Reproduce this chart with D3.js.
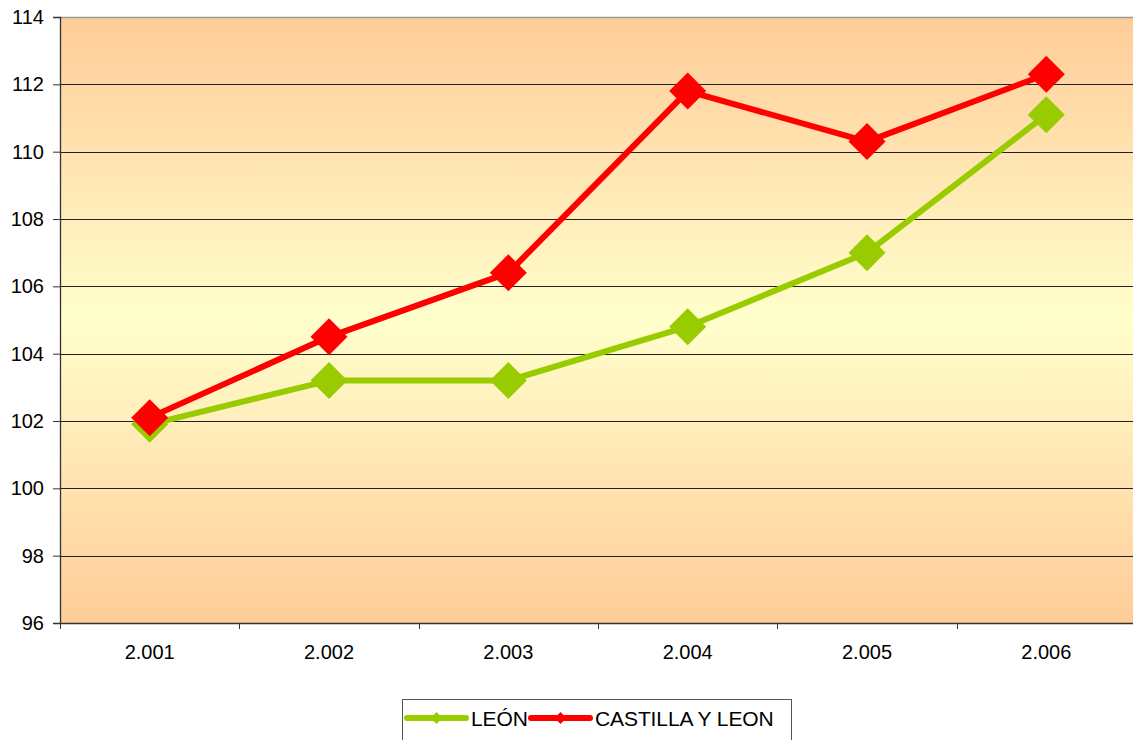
<!DOCTYPE html>
<html><head><meta charset="utf-8">
<script src="https://cdn.jsdelivr.net/npm/d3@7/dist/d3.min.js"></script>
<style>html,body{margin:0;padding:0;background:#fff;overflow:hidden}svg{display:block;font-family:"Liberation Sans",Arial,sans-serif}</style>
</head><body><svg id="c" width="1133" height="740"></svg>
<script>
const years = ["2.001","2.002","2.003","2.004","2.005","2.006"];
const leon = [101.9, 103.2, 103.2, 104.8, 107.0, 111.1];
const castilla = [102.1, 104.5, 106.4, 111.8, 110.3, 112.3];
const yTicks = [96, 98, 100, 102, 104, 106, 108, 110, 112, 114];
const seriesNames = ["LEÓN", "CASTILLA Y LEON"];
const seriesColors = ["#99CC00", "#FF0000"];

const svg = d3.select("#c");
const L = 60, R = 1136, T = 17, B = 623;
const x = d3.scaleBand().domain(years).range([L, R]);
const y = d3.scaleLinear().domain([96, 114]).range([B, T]);

const defs = svg.append("defs");
const g = defs.append("linearGradient").attr("id","bg").attr("x1",0).attr("y1",0).attr("x2",0).attr("y2",1);
g.append("stop").attr("offset","0%").attr("stop-color","#FFCC99");
g.append("stop").attr("offset","50%").attr("stop-color","#FFFFCC");
g.append("stop").attr("offset","100%").attr("stop-color","#FFCC99");

svg.append("rect").attr("x",L).attr("y",T).attr("width",R-L).attr("height",B-T).attr("fill","url(#bg)");

// gridlines
svg.append("g").selectAll("line").data(yTicks.filter(d=>d>96 && d<114)).join("line")
  .attr("x1",L).attr("x2",R).attr("y1",d=>Math.round(y(d))+0.5).attr("y2",d=>Math.round(y(d))+0.5)
  .attr("stroke","#222").attr("stroke-width",1);
svg.append("line").attr("x1",L).attr("x2",R).attr("y1",T+0.5).attr("y2",T+0.5).attr("stroke","#999").attr("stroke-width",1.5);

// y axis
const ya = svg.append("g").attr("transform",`translate(${L},0)`)
  .call(d3.axisLeft(y).tickValues(yTicks).tickSize(7).tickPadding(9).tickFormat(d3.format("d")));
ya.select(".domain").attr("stroke","#333").attr("stroke-width",1.3);
ya.selectAll(".tick line").attr("stroke","#333");
ya.selectAll("text").attr("font-size",20).attr("fill","#000").attr("font-family","Liberation Sans, Arial, sans-serif");

// x axis
const xa = svg.append("g").attr("transform",`translate(0,${B})`)
  .call(d3.axisBottom(x).tickSize(0).tickPadding(22));
xa.select(".domain").attr("stroke","#333").attr("stroke-width",1.3);
xa.selectAll("text").attr("font-size",20).attr("fill","#000").attr("font-family","Liberation Sans, Arial, sans-serif");
svg.append("g").selectAll("line").data(years).join("line")
  .attr("x1",d=>Math.round(x(d))+0.5).attr("x2",d=>Math.round(x(d))+0.5)
  .attr("y1",B).attr("y2",B+6).attr("stroke","#333");

const cx = d => x(d) + x.bandwidth()/2;
const diamond = (s) => `M0,${-s}L${s},0L0,${s}L${-s},0Z`;
const data = [leon, castilla];
data.forEach((vals, i) => {
  const pts = years.map((yr, j) => [cx(yr), y(vals[j])]);
  svg.append("path").attr("d", d3.line()(pts)).attr("fill","none")
    .attr("stroke", seriesColors[i]).attr("stroke-width",6).attr("stroke-linejoin","round");
  svg.append("g").selectAll("path").data(pts).join("path")
    .attr("transform", d=>`translate(${d[0]},${d[1]})`).attr("d", diamond(18.5)).attr("fill", seriesColors[i]);
});

// legend
svg.append("rect").attr("x",402.5).attr("y",699.5).attr("width",389).attr("height",50).attr("fill","#fff").attr("stroke","#555").attr("stroke-width",1);
const legItems = [{x0:407, x1:466, tx:471}, {x0:531, x1:590, tx:595}];
legItems.forEach((it, i) => {
  const ly = 718;
  svg.append("line").attr("x1",it.x0).attr("x2",it.x1).attr("y1",ly).attr("y2",ly)
    .attr("stroke",seriesColors[i]).attr("stroke-width",6).attr("stroke-linecap","round");
  svg.append("path").attr("transform",`translate(${(it.x0+it.x1)/2},${ly})`).attr("d",diamond(6)).attr("fill",seriesColors[i]);
  svg.append("text").attr("x",it.tx).attr("y",726).attr("font-size",21).attr("letter-spacing","-0.1")
    .attr("fill","#000").text(seriesNames[i]);
});
</script></body></html>
